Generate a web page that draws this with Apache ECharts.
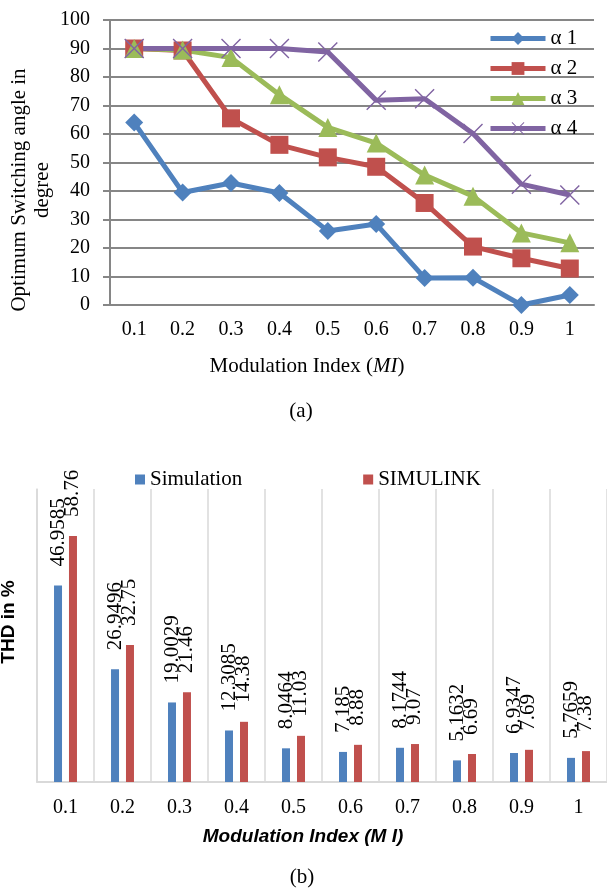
<!DOCTYPE html>
<html>
<head>
<meta charset="utf-8">
<script src="https://cdn.jsdelivr.net/npm/echarts/dist/echarts.min.js"></script>
<style>
  html, body { margin: 0; padding: 0; background: #fff; }
  #chart { width: 607px; height: 889px; }
</style>
</head>
<body>
<div id="chart"></div>
<script>
// modulation index categories (shared by both panels)
const categories = ['0.1', '0.2', '0.3', '0.4', '0.5', '0.6', '0.7', '0.8', '0.9', '1'];

// (a) optimum switching angles in degree
const alpha1 = [64, 39.5, 42.8, 39.3, 26, 28.4, 9.5, 9.6, 0, 3.5];
const alpha2 = [90, 89.3, 65.5, 56.2, 51.8, 48.5, 35.8, 20.5, 16.4, 12.8];
const alpha3 = [90, 89.5, 86.8, 73.8, 62.3, 56.8, 45.6, 38.2, 25.3, 21.8];
const alpha4 = [90, 90, 90, 90, 88.8, 71.8, 72.4, 60.2, 42.4, 38.6];

// (b) THD in %
const simulation = [46.9585, 26.9496, 19.0029, 12.3085, 8.0464, 7.185, 8.1744, 5.1632, 6.9347, 5.7659];
const simulink = [58.76, 32.75, 21.46, 14.38, 11.03, 8.88, 9.07, 6.69, 7.69, 7.38];

const serif = 'Liberation Serif';
const sans = 'Liberation Sans';
const gridGrey = '#868686';
const lightGrey = '#d9d9d9';

// thin "x" marker like the excel one
const crossPath = 'path://M0,1 L1,0 L10,9 L19,0 L20,1 L11,10 L20,19 L19,20 L10,11 L1,20 L0,19 L9,10 Z';

const chart = echarts.init(document.getElementById('chart'));

const lineSeries = (name, data, color, symbol, size) => ({
  name: name,
  type: 'line',
  xAxisIndex: 0,
  yAxisIndex: 0,
  data: data,
  symbol: symbol,
  symbolSize: size,
  showAllSymbol: true,
  lineStyle: { width: 5, color: color, join: 'round' },
  itemStyle: { color: color },
  emphasis: { disabled: true },
  z: 3
});

const barLabel = {
  show: true,
  position: 'top',
  rotate: 90,
  align: 'left',
  verticalAlign: 'middle',
  distance: 17,
  offset: [2, 0],
  fontFamily: serif,
  fontSize: 21,
  color: '#000'
};

const option = {
  animation: false,
  backgroundColor: '#fff',
  grid: [
    { left: 110, top: 20, width: 484, height: 285 },
    { left: 37, top: 489, width: 570, height: 293 }
  ],
  legend: [
    {
      data: ['α 1', 'α 2', 'α 3', 'α 4'],
      orient: 'vertical',
      left: 483,
      top: 23,
      itemWidth: 55,
      itemHeight: 16,
      itemGap: 9,
      lineStyle: { width: 5 },
      textStyle: { fontFamily: serif, fontSize: 21, color: '#000', lineHeight: 20 }
    },
    {
      data: ['Simulation', 'SIMULINK'],
      left: 130,
      top: 464,
      icon: 'rect',
      itemWidth: 10,
      itemHeight: 10,
      itemGap: 121,
      textStyle: { fontFamily: serif, fontSize: 21, color: '#000' }
    }
  ],
  xAxis: [
    {
      type: 'category',
      gridIndex: 0,
      data: categories,
      axisLine: { lineStyle: { color: gridGrey, width: 2 } },
      axisTick: { show: false },
      axisLabel: { fontFamily: serif, fontSize: 20, color: '#000', margin: 15 }
    },
    {
      type: 'category',
      gridIndex: 1,
      data: categories,
      axisLine: { lineStyle: { color: lightGrey, width: 2 } },
      axisTick: { show: false },
      axisLabel: { fontFamily: serif, fontSize: 20, color: '#000', margin: 16 },
      splitLine: { show: true, interval: 0, lineStyle: { color: lightGrey, width: 1.5 } }
    }
  ],
  yAxis: [
    {
      type: 'value',
      gridIndex: 0,
      min: 0,
      max: 100,
      interval: 10,
      axisLine: { show: true, lineStyle: { color: gridGrey, width: 2 } },
      axisTick: { show: true, length: 7, lineStyle: { color: gridGrey, width: 2 } },
      axisLabel: { fontFamily: serif, fontSize: 20, color: '#000', margin: 20 },
      splitLine: { lineStyle: { color: gridGrey, width: 2 } }
    },
    {
      type: 'value',
      gridIndex: 1,
      min: 0,
      max: 70,
      axisLine: { show: true, lineStyle: { color: lightGrey, width: 1.5 } },
      axisTick: { show: false },
      axisLabel: { show: false },
      splitLine: { show: false }
    }
  ],
  series: [
    lineSeries('α 1', alpha1, '#4F81BD', 'diamond', 18),
    lineSeries('α 2', alpha2, '#C0504D', 'rect', 18),
    lineSeries('α 3', alpha3, '#9BBB59', 'triangle', 19),
    lineSeries('α 4', alpha4, '#8064A2', crossPath, 20),
    {
      name: 'Simulation',
      type: 'bar',
      xAxisIndex: 1,
      yAxisIndex: 1,
      data: simulation,
      barWidth: 8,
      barGap: '87%',
      itemStyle: { color: '#4F81BD' },
      label: barLabel
    },
    {
      name: 'SIMULINK',
      type: 'bar',
      xAxisIndex: 1,
      yAxisIndex: 1,
      data: simulink,
      barWidth: 8,
      barGap: '87%',
      itemStyle: { color: '#C0504D' },
      label: barLabel
    }
  ],
  graphic: [
    {
      type: 'text',
      x: 31,
      y: 190,
      rotation: Math.PI / 2,
      style: {
        text: 'Optimum Switching angle in\ndegree',
        fontFamily: serif,
        fontSize: 21,
        lineHeight: 23,
        fill: '#000',
        align: 'center',
        verticalAlign: 'middle'
      }
    },
    {
      type: 'text',
      x: 307,
      y: 366,
      style: {
        text: 'Modulation Index ({i|MI})',
        fontFamily: serif,
        fontSize: 21,
        fill: '#000',
        align: 'center',
        verticalAlign: 'middle',
        rich: { i: { fontFamily: serif, fontSize: 21, fontStyle: 'italic', fill: '#000' } }
      }
    },
    {
      type: 'text',
      x: 301,
      y: 411,
      style: { text: '(a)', fontFamily: serif, fontSize: 21, fill: '#000', align: 'center', verticalAlign: 'middle' }
    },
    {
      type: 'text',
      x: 9,
      y: 622,
      rotation: Math.PI / 2,
      style: {
        text: 'THD in %',
        fontFamily: sans,
        fontWeight: 'bold',
        fontSize: 19,
        fill: '#000',
        align: 'center',
        verticalAlign: 'middle'
      }
    },
    {
      type: 'text',
      x: 303,
      y: 837,
      style: {
        text: 'Modulation Index (M I)',
        fontFamily: sans,
        fontWeight: 'bold',
        fontStyle: 'italic',
        fontSize: 19,
        fill: '#000',
        align: 'center',
        verticalAlign: 'middle'
      }
    },
    {
      type: 'text',
      x: 302,
      y: 877,
      style: { text: '(b)', fontFamily: serif, fontSize: 21, fill: '#000', align: 'center', verticalAlign: 'middle' }
    }
  ]
};

chart.setOption(option);
</script>
</body>
</html>
